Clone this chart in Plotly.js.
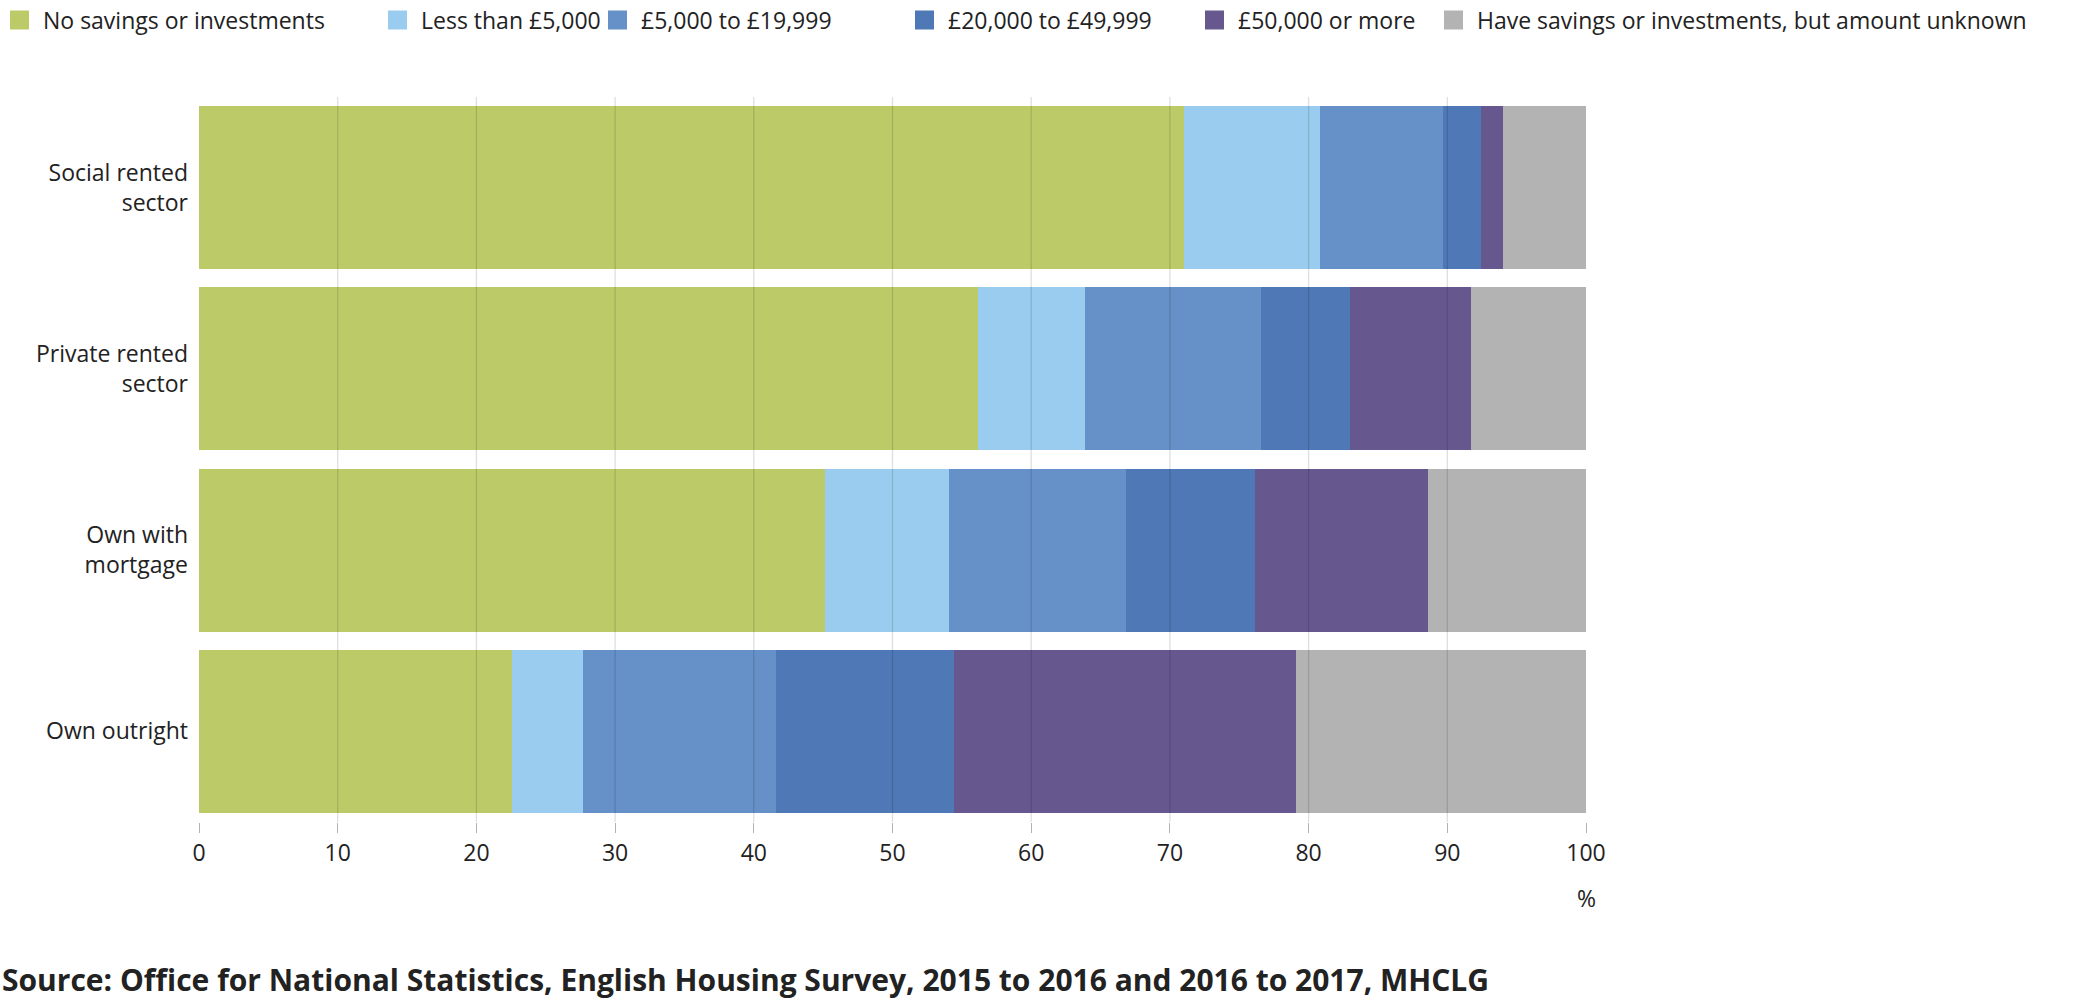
<!DOCTYPE html>
<html>
<head>
<meta charset="utf-8">
<script src="https://cdn.plot.ly/plotly-3.0.1.min.js"></script>
<style>body{margin:0;background:#fff}#chart{width:2083px;height:998px}</style>
</head>
<body>
<div id="chart"></div>
<script>
// tenure categories, bottom to top as plotted
const tenures = ["Own outright", "Own with<br>mortgage", "Private rented<br>sector", "Social rented<br>sector"];
const seriesNames = ["No savings or investments", "Less than £5,000", "£5,000 to £19,999",
  "£20,000 to £49,999", "£50,000 or more", "Have savings or investments, but amount unknown"];
const noSavings = [22.6, 45.1, 56.2, 71.0];
const under5k = [5.1, 9.0, 7.7, 9.8];
const from5kTo20k = [13.9, 12.7, 12.7, 8.9];
const from20kTo50k = [12.8, 9.3, 6.4, 2.7];
const over50k = [24.7, 12.5, 8.7, 1.6];
const unknownAmount = [20.9, 11.4, 8.3, 6.0];
const xTicks = [0, 10, 20, 30, 40, 50, 60, 70, 80, 90, 100];
const colours = ["#bccb68", "#99ccee", "#6690c8", "#4f78b6", "#66588f", "#b3b3b3"];

const W = 2083, L = 199, R = 497, T = 97, B = 176;
const plotW = W - L - R, plotH = 998 - T - B;
const px2paper = px => (px - L) / plotW;

const allSeries = [noSavings, under5k, from5kTo20k, from20kTo50k, over50k, unknownAmount];
const traces = allSeries.map((vals, i) => ({
  type: 'bar', orientation: 'h', name: seriesNames[i], x: vals, y: tenures,
  marker: {color: colours[i], line: {width: 0}}, showlegend: false
}));

// legend drawn by hand so it stays on one row
const legendX = [10, 388, 608, 915, 1205, 1444];
const legendY = (T + plotH - 20) / plotH;
const shapes = [];
const annotations = [];
seriesNames.forEach((name, i) => {
  shapes.push({type: 'rect', xref: 'paper', yref: 'paper', layer: 'above',
    x0: px2paper(legendX[i]), x1: px2paper(legendX[i] + 19),
    y0: legendY - 9.5 / plotH, y1: legendY + 9.5 / plotH,
    fillcolor: colours[i], line: {width: 0}});
  annotations.push({text: name, xref: 'paper', yref: 'paper', x: px2paper(legendX[i] + 31),
    y: legendY, xanchor: 'left', yanchor: 'middle', showarrow: false, font: {size: 23}});
});
// gridlines over the bars
xTicks.slice(1, -1).forEach(t => {
  shapes.push({type: 'line', xref: 'x', yref: 'paper', x0: t, x1: t, y0: 0, y1: 1,
    layer: 'above', line: {color: 'rgba(0,0,0,0.13)', width: 1.3}});
});
annotations.push(
  {text: "%", xref: 'paper', yref: 'paper', x: 1, y: (822 - 898) / plotH, xanchor: 'center',
    yanchor: 'middle', showarrow: false, font: {size: 23}},
  {text: "<b>Source: Office for National Statistics, English Housing Survey, 2015 to 2016 and 2016 to 2017, MHCLG</b>",
    xref: 'paper', yref: 'paper', x: px2paper(0), y: (822 - 979) / plotH, xanchor: 'left',
    yanchor: 'middle', showarrow: false, font: {size: 30, color: '#222'}}
);

const layout = {
  barmode: 'stack', bargap: 0.1, width: W, height: 998,
  margin: {l: L, r: R, t: T, b: B},
  font: {family: "Open Sans, sans-serif", size: 23, color: "#222"},
  showlegend: false,
  xaxis: {range: [0, 100], tickvals: xTicks, showgrid: false, zeroline: false, showline: false,
    ticks: 'outside', ticklen: 10, tickcolor: 'rgba(0,0,0,0.3)', fixedrange: true, automargin: false},
  yaxis: {showgrid: false, ticks: '', fixedrange: true, automargin: false, ticklabelstandoff: 10},
  shapes: shapes,
  annotations: annotations
};
Plotly.newPlot('chart', traces, layout, {displayModeBar: false, staticPlot: true});
</script>
</body>
</html>
